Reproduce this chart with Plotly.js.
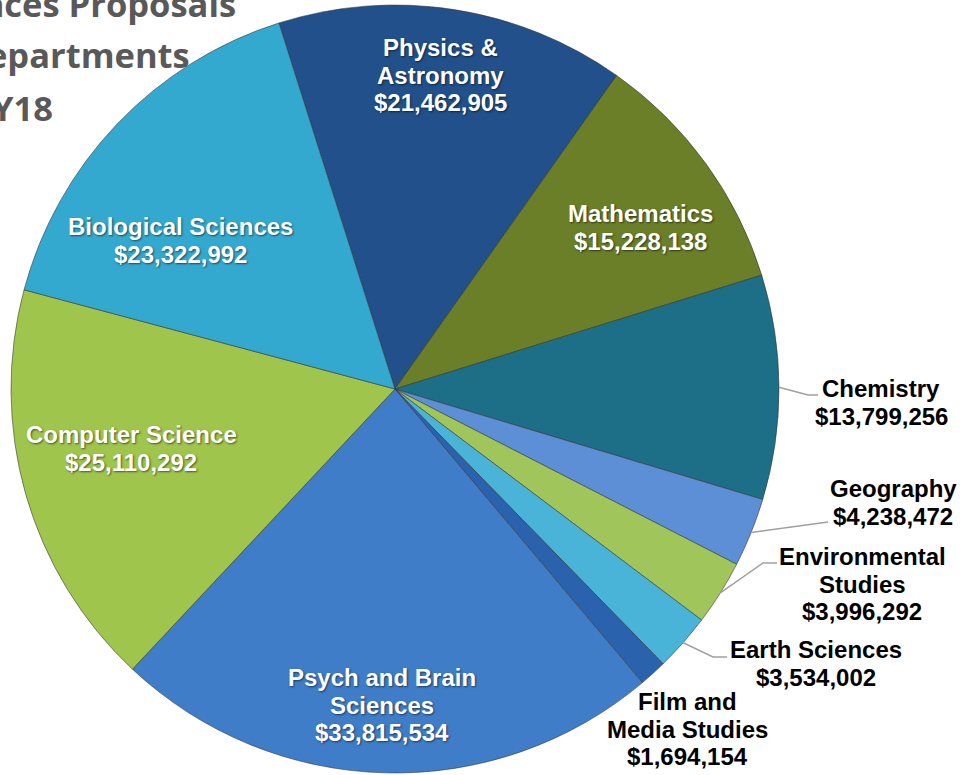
<!DOCTYPE html>
<html>
<head>
<meta charset="utf-8">
<script src="https://cdn.plot.ly/plotly-3.0.1.min.js"></script>
<style>
  html, body { margin: 0; padding: 0; background: #ffffff; }
  #chart { width: 965px; height: 775px; }
</style>
</head>
<body>
<div id="chart"></div>
<script>
// ---- data ----
const departments = ["Physics & Astronomy", "Mathematics", "Chemistry", "Geography",
  "Environmental Studies", "Earth Sciences", "Film and Media Studies",
  "Psych and Brain Sciences", "Computer Science", "Biological Sciences"];
const amounts = [21462905, 15228138, 13799256, 4238472, 3996292, 3534002, 1694154,
  33815534, 25110292, 23322992];
const labelLines = [["Physics &", "Astronomy"], ["Mathematics"], ["Chemistry"], ["Geography"],
  ["Environmental", "Studies"], ["Earth Sciences"], ["Film and", "Media Studies"],
  ["Psych and Brain", "Sciences"], ["Computer Science"], ["Biological Sciences"]];
const titleLines = ["Sciences Proposals", "by Departments", "FY18"];

// ---- styles / layout constants ----
const sliceColors = ["#21508a", "#6a7f28", "#1d6f88", "#5c8fd6", "#a0c55a",
  "#4ab4d8", "#2a62ad", "#3f7dc9", "#9fc54c", "#33a9cf"];
const W = 965, H = 775;
const CX = 395, CY = 389, R = 384;
const ROT = -17.6;
// label placement: centre x, first baseline (px), inside?, leader elbow / end (px)
const labelPlace = [
  {cx: 440, base: 56, inside: true},
  {cx: 640, base: 222, inside: true},
  {cx: 881, base: 397, inside: false, elbow: [808, 395], end: [818, 395]},
  {cx: 893, base: 497, inside: false, elbow: [828, 522], end: [828, 522]},
  {cx: 862, base: 565, inside: false, elbow: [763, 563], end: [777, 563]},
  {cx: 816, base: 658, inside: false, elbow: [713, 657], end: [727, 657]},
  {cx: 687, base: 710, inside: false},
  {cx: 382, base: 686, inside: true},
  {cx: 131, base: 443, inside: true},
  {cx: 180, base: 235, inside: true}
];
const titlePlace = [{right: 238, base: 17}, {right: 192, base: 68}, {right: 55, base: 121}];
const TITLE_SIZE = 34.5;

const px = x => x / W;
const py = y => (H - y) / H;
const money = v => "$" + v.toLocaleString("en-US");

const labelFont = {family: "Liberation Sans, Arial, sans-serif", size: 24, weight: "bold"};
const PITCH = 27.5;
const annotations = [];
const shapes = [];

// title lines
titleLines.forEach((t, i) => {
  const p = titlePlace[i];
  annotations.push({
    text: t, xref: "paper", yref: "paper", showarrow: false,
    x: px(p.right), xanchor: "right",
    y: py(p.base - 0.388 * TITLE_SIZE), yanchor: "middle",
    font: {family: "Open Sans, sans-serif", size: TITLE_SIZE, weight: "bold", color: "#595959"}
  });
});

// slice labels + leader lines
const total = amounts.reduce((a, b) => a + b, 0);
let cum = 0;
amounts.forEach((v, i) => {
  const mid = (ROT + (cum + v / 2) / total * 360) * Math.PI / 180;
  cum += v;
  const p = labelPlace[i];
  const lines = labelLines[i].concat([money(v)]);
  lines.forEach((ln, k) => {
    const base = p.base + k * PITCH;
    annotations.push({
      text: ln, xref: "paper", yref: "paper", showarrow: false,
      x: px(p.cx), xanchor: "center",
      y: py(base - 0.3465 * labelFont.size), yanchor: "middle",
      font: Object.assign({}, labelFont, p.inside
        ? {color: "#ffffff", shadow: "1px 1px 2px rgba(0,0,0,0.55)"}
        : {color: "#000000"})
    });
  });
  if (!p.inside && p.elbow) {
    const ex = CX + R * Math.sin(mid), ey = CY - R * Math.cos(mid);
    shapes.push({
      type: "path", xref: "paper", yref: "paper",
      path: "M " + px(ex) + "," + py(ey) + " L " + px(p.elbow[0]) + "," + py(p.elbow[1]) +
            " L " + px(p.end[0]) + "," + py(p.end[1]),
      line: {color: "#a0a0a0", width: 1.5}
    });
  }
});

const trace = {
  type: "pie",
  labels: departments,
  values: amounts,
  sort: false,
  direction: "clockwise",
  rotation: ROT,
  textinfo: "none",
  hoverinfo: "label+value",
  marker: {colors: sliceColors, line: {color: "rgba(50,50,50,0.55)", width: 1}},
  domain: {x: [px(CX - R), px(CX + R)], y: [(H - CY - R) / H, (H - CY + R) / H]},
  showlegend: false
};

const layout = {
  width: W, height: H,
  margin: {l: 0, r: 0, t: 0, b: 0},
  paper_bgcolor: "#ffffff",
  showlegend: false,
  annotations: annotations,
  shapes: shapes
};

Plotly.newPlot("chart", [trace], layout, {displayModeBar: false, staticPlot: true});
</script>
</body>
</html>
